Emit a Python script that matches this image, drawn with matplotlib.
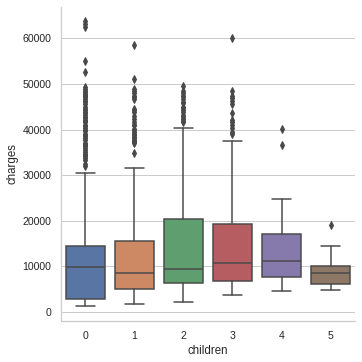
import colorsys
import matplotlib
matplotlib.use("Agg")
import matplotlib.pyplot as plt
import seaborn as sns

categories = ["0", "1", "2", "3", "4", "5"]
q1 = [2760, 5040, 6420, 6700, 7580, 6040]
median = [9900, 8600, 9330, 10640, 11080, 8600]
q3 = [14500, 15610, 20430, 19400, 17210, 10140]
whislo = [1230, 1820, 2250, 3640, 4510, 4730]
whishi = [30440, 31670, 40290, 37580, 24810, 14520]
outliers = [
    [32108, 32548, 33307, 33750, 34166, 34439, 34672, 35160, 35491, 36021,
     36307, 36580, 36898, 37133, 37607, 38245, 38511, 38746, 39047, 39597,
     39983, 40419, 40720, 41097, 41661, 41949, 42112, 42560, 42856, 43254,
     43578, 43921, 44260, 44585, 45008, 45702, 46113, 46255, 46718, 47055,
     47269, 47496, 47896, 48173, 48549, 48824, 49400, 52590, 55135, 62593,
     63142, 63770],
    [34779, 37079, 37270, 37484, 37701, 38126, 38344, 38710, 39125, 39556,
     39871, 40182, 40904, 41097, 41676, 42303, 42983, 43813, 44202, 44501,
     46661, 47055, 47305, 47928, 48517, 48885, 51194, 58571],
    [41661, 41919, 42211, 42760, 43254, 43753, 44400, 44641, 45008, 45863,
     46130, 46599, 47269, 47462, 47928, 48549, 49577],
    [38998, 39556, 40274, 40941, 41676, 42124, 43578, 45710, 46200, 46889,
     47291, 48549, 60021],
    [36580, 40182],
    [19023],
]

sns.set_theme(style="whitegrid")
plt.rcParams["font.family"] = ["Liberation Sans", "DejaVu Sans"]

colors = sns.color_palette("deep", len(categories), desat=0.75)
lum = min(colorsys.rgb_to_hls(*c)[1] for c in colors) * 0.6
gray = (lum, lum, lum)

fig = plt.figure(figsize=(362 / 72, 362 / 72), dpi=72)
ax = fig.add_axes([0.168, 0.113, 0.813, 0.868])

stats = []
for i, cat in enumerate(categories):
    stats.append(dict(label=cat, q1=q1[i], med=median[i], q3=q3[i],
                      whislo=whislo[i], whishi=whishi[i], fliers=outliers[i]))

lw = 1.5
bp = ax.bxp(stats, positions=range(len(categories)), widths=0.8,
            patch_artist=True, showfliers=True,
            boxprops=dict(linewidth=lw, edgecolor=gray),
            whiskerprops=dict(color=gray, linewidth=lw),
            capprops=dict(color=gray, linewidth=lw),
            medianprops=dict(color=gray, linewidth=lw),
            flierprops=dict(marker="d", markerfacecolor=gray,
                            markeredgecolor=gray, markersize=5, linestyle="none"))
for patch, c in zip(bp["boxes"], colors):
    patch.set_facecolor(c)
    patch.set_zorder(0.9)

ax.set_xlim(-0.5, len(categories) - 0.5)
ax.xaxis.grid(False)
ax.yaxis.grid(True, color="#cccccc", linewidth=1)
ax.set_axisbelow(True)
ax.set_xlabel("children", fontsize=11.5, color="#262626")
ax.set_ylabel("charges", fontsize=11.5, color="#262626")
ax.tick_params(axis="both", labelsize=10.5, colors="#262626")
ax.set_yticks([0, 10000, 20000, 30000, 40000, 50000, 60000])
ax.set_ylim(-1990, 66900)
for s in ["top", "right"]:
    ax.spines[s].set_visible(False)
for s in ["left", "bottom"]:
    ax.spines[s].set_color("#cccccc")

fig.savefig("out.png", dpi=72)
